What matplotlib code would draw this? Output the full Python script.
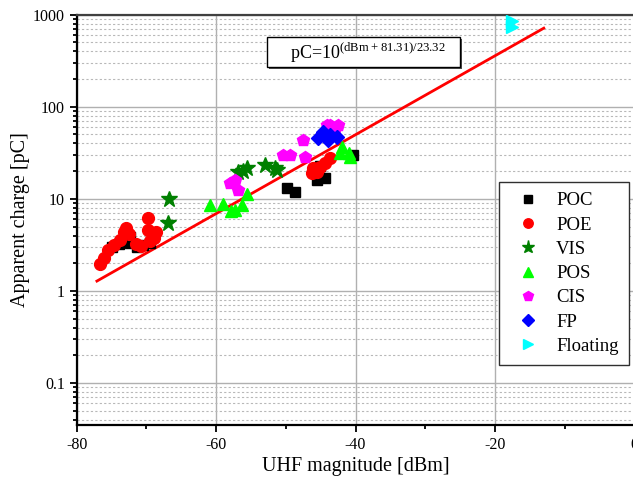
import numpy as np
import matplotlib.pyplot as plt
from matplotlib.patches import Rectangle
from matplotlib.ticker import LogLocator, FixedLocator, NullFormatter

plt.rcParams['font.family'] = ['Liberation Serif', 'DejaVu Serif']
plt.rcParams['mathtext.fontset'] = 'custom'
plt.rcParams['mathtext.rm'] = 'Liberation Serif'
plt.rcParams['axes.unicode_minus'] = False

# data (UHF magnitude [dBm], apparent charge [pC])
poc_x = [-75.0, -74.0, -72.4, -71.4, -70.5, -69.5, -72.4, -49.9, -48.7, -45.6, -44.4, -45.1, -40.3]
poc_y = [3.0, 3.2, 3.3, 3.0, 3.15, 3.3, 3.9, 13.0, 11.9, 16.0, 16.7, 23.0, 30.0]

poe_x = [-76.7, -76.1, -75.5, -74.7, -73.8, -73.2, -72.9, -72.5, -71.5, -70.8, -69.8, -69.8,
         -68.9, -68.6, -69.5, -46.3, -46.1, -45.1, -44.4, -43.7, -45.6]
poe_y = [1.96, 2.28, 2.78, 3.15, 3.57, 4.36, 4.82, 4.15, 3.23, 3.08, 4.6, 6.19,
         3.76, 4.36, 3.5, 18.9, 21.4, 22.3, 24.3, 27.5, 19.7]

vis_x = [-66.9, -66.8, -56.8, -55.6, -56.2, -53.0, -51.6, -51.3]
vis_y = [5.5, 10.0, 19.7, 21.4, 20.0, 23.3, 21.4, 20.5]

pos_x = [-60.9, -59.0, -57.8, -57.3, -56.3, -55.6, -42.2, -41.0, -42.0, -40.8]
pos_y = [8.6, 8.9, 7.3, 7.6, 8.6, 11.2, 31.2, 31.2, 36.7, 28.6]

cis_x = [-58.0, -57.3, -56.8, -50.4, -49.4, -47.5, -47.3, -44.1, -43.7, -42.5, -43.0]
cis_y = [14.7, 16.0, 12.5, 29.9, 29.9, 43.4, 28.6, 63.0, 63.0, 63.0, 58.0]

fp_x = [-45.4, -44.6, -43.7, -42.7, -44.0]
fp_y = [45.3, 53.4, 49.2, 47.2, 44.0]

flt_x = [-17.6, -17.6]
flt_y = [850, 730]

fit_x = [-77.1, -13.0]
fit_y = [1.28, 714]

W, H = 633, 482
fig = plt.figure(figsize=(W / 100, H / 100), dpi=100)
ax = fig.add_axes([76.7 / W, 1 - 425 / H, (634.4 - 76.7) / W, (425 - 14.7) / H])

ax.set_xlim(-80, 0)
ax.set_ylim(0.035, 1000)
ax.set_yscale('log')

ax.plot(fit_x, fit_y, color='red', lw=2, zorder=2)

ms = 8.5
ax.plot(poc_x, poc_y, 's', color='black', ms=7.5, label='POC', zorder=3)
ax.plot(poe_x, poe_y, 'o', color='red', ms=ms, label='POE', zorder=3)
ax.plot(vis_x, vis_y, '*', color='green', ms=12, label='VIS', zorder=3)
ax.plot(pos_x, pos_y, '^', color='lime', ms=ms, label='POS', zorder=3)
ax.plot(cis_x, cis_y, 'p', color='magenta', ms=ms + 0.5, label='CIS', zorder=3)
ax.plot(fp_x, fp_y, 'D', color='blue', ms=7.5, label='FP', zorder=3)
ax.plot(flt_x, flt_y, '>', color='cyan', ms=ms, label='Floating', zorder=3)

ax.xaxis.set_major_locator(FixedLocator([-80, -60, -40, -20, 0]))
ax.xaxis.set_minor_locator(FixedLocator([-70, -50, -30, -10]))
ax.yaxis.set_minor_locator(LogLocator(base=10, subs=np.arange(2, 10), numticks=20))
ax.yaxis.set_minor_formatter(NullFormatter())
ax.set_yticks([0.1, 1, 10, 100, 1000])
ax.set_yticklabels(['0.1', '1', '10', '100', '1000'])

ax.grid(True, which='major', color='#b0b0b0', lw=1.0)
ax.grid(True, which='minor', axis='y', color='#b8b8b8', lw=0.8, ls=(0, (2, 2)))
ax.set_axisbelow(True)

ax.tick_params(which='both', direction='out', width=1.3, labelsize=11.5, colors='black')
ax.tick_params(which='major', length=5)
ax.tick_params(which='minor', length=3)
for s in ['left', 'bottom']:
    ax.spines[s].set_linewidth(1.6)
ax.spines['top'].set_linewidth(1.6)
ax.spines['top'].set_color('#404040')

ax.set_xlabel('UHF magnitude [dBm]', fontsize=14.5, labelpad=3)
ax.set_ylabel('Apparent charge [pC]', fontsize=14.5, labelpad=2)

leg = ax.legend(loc='upper left', bbox_to_anchor=(499 / W, 1 - 182 / H),
                bbox_transform=fig.transFigure, borderaxespad=0, fontsize=13.5,
                frameon=True, fancybox=False, framealpha=1, edgecolor='#303030',
                labelspacing=0.38, handletextpad=0.5, borderpad=0.55, handlelength=2.0,
                markerscale=0.8)
leg.get_frame().set_linewidth(1.0)

# formula box
fig.patches.append(Rectangle((269 / W, 1 - 69 / H), 193 / W, 30 / H, transform=fig.transFigure,
                             fc='#505050', ec='none', zorder=4))
fig.patches.append(Rectangle((267 / W, 1 - 67 / H), 193 / W, 30 / H, transform=fig.transFigure,
                             fc='white', ec='black', lw=1.0, zorder=5))
fig.text(290 / W, 1 - 53 / H, r'pC=10$^{\mathrm{(dBm+81.31)/23.32}}$', fontsize=13,
         va='center', ha='left', zorder=6)

fig.savefig('out.png', dpi=100)
